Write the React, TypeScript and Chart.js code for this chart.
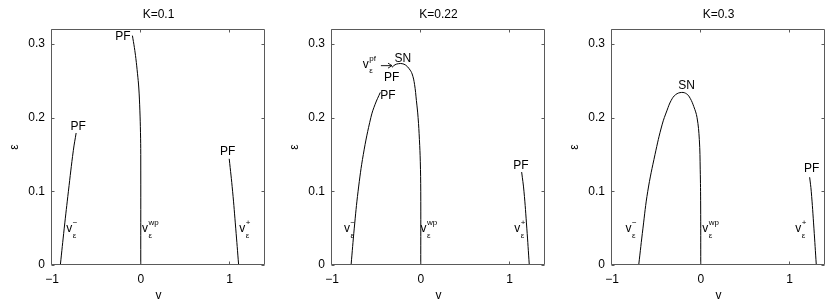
import React, { useEffect, useRef } from "react";
import { Chart, registerables } from "chart.js";

Chart.register(...registerables);

const FONT = "'Liberation Sans', Arial, Helvetica, sans-serif";

// shared axes
const xTicks = [-1, 0, 1];
const yTicks = [0, 0.1, 0.2, 0.3];
const xMin = -1;
const xMax = 1.4;
const yMin = 0;
const yMax = 0.32;
const rootEps = 0.049;
const rootSup = ["−", "wp", "+"];

// ---------- K = 0.1 ----------
const k1Title = "K=0.1";
const k1MinusV = [-0.906, -0.862, -0.815, -0.76, -0.728];
const k1MinusEps = [0, 0.05, 0.1, 0.155, 0.179];
const k1WpV = [0, 0, -0.003, -0.01, -0.022, -0.037, -0.055, -0.072, -0.094];
const k1WpEps = [0, 0.15, 0.18, 0.21, 0.24, 0.26, 0.28, 0.295, 0.311];
const k1PlusV = [1.103, 1.07, 1.035, 0.997];
const k1PlusEps = [0, 0.05, 0.1, 0.144];
const k1MarkText = ["PF", "PF", "PF"];
const k1MarkV = [-0.706, -0.2, 0.978];
const k1MarkEps = [0.188, 0.31, 0.154];
const k1RootV = [-0.805, 0.048, 1.143];

// ---------- K = 0.22 ----------
const k2Title = "K=0.22";
const k2MinusV = [-0.785, -0.749, -0.706, -0.647, -0.562, -0.514, -0.456];
const k2MinusEps = [0, 0.05, 0.1, 0.15, 0.2, 0.218, 0.234];
const k2ArcV = [-0.324, -0.29, -0.25, -0.21, -0.17, -0.13, -0.097, -0.07, -0.049, -0.03, -0.015, -0.005, 0, 0];
const k2ArcEps = [0.268, 0.2715, 0.273, 0.273, 0.271, 0.266, 0.259, 0.245, 0.223, 0.2, 0.17, 0.14, 0.1, 0];
const k2PlusV = [1.223, 1.195, 1.163, 1.137];
const k2PlusEps = [0, 0.05, 0.1, 0.126];
const k2MarkText = ["SN", "PF", "PF", "PF"];
const k2MarkV = [-0.202, -0.328, -0.371, 1.129];
const k2MarkEps = [0.28, 0.254, 0.229, 0.135];
const k2RootV = [-0.83, 0.031, 1.087];
const k2PfLabelV = -0.62;
const k2PfLabelEps = 0.272;
const k2ArrowV = [-0.449, -0.324];
const k2ArrowEps = [0.2703, 0.2703];

// ---------- K = 0.3 ----------
const k3Title = "K=0.3";
const k3LeftV = [-0.699, -0.651, -0.597, -0.515, -0.436, -0.379, -0.334, -0.283, -0.215, -0.159, -0.119, -0.079, -0.042, -0.016, -0.006, -0.001, 0];
const k3LeftEps = [0, 0.05, 0.1, 0.15, 0.19, 0.21, 0.223, 0.231, 0.234, 0.232, 0.226, 0.215, 0.2, 0.17, 0.13, 0.08, 0];
const k3PlusV = [1.302, 1.275, 1.245, 1.227];
const k3PlusEps = [0, 0.05, 0.1, 0.119];
const k3MarkText = ["SN", "PF"];
const k3MarkV = [-0.161, 1.251];
const k3MarkEps = [0.243, 0.13];
const k3RootV = [-0.815, 0.051, 1.098];

const zip = (v: number[], e: number[]) => v.map((x, i) => ({ x, y: e[i] }));

type PanelDef = {
  title: string;
  curves: { v: number[]; e: number[] }[];
  marks: { text: string[]; v: number[]; e: number[] };
  roots: number[];
  pf?: { v: number; e: number; arrowV: number[]; arrowE: number[] };
};

const panels: PanelDef[] = [
  {
    title: k1Title,
    curves: [
      { v: k1MinusV, e: k1MinusEps },
      { v: k1WpV, e: k1WpEps },
      { v: k1PlusV, e: k1PlusEps },
    ],
    marks: { text: k1MarkText, v: k1MarkV, e: k1MarkEps },
    roots: k1RootV,
  },
  {
    title: k2Title,
    curves: [
      { v: k2MinusV, e: k2MinusEps },
      { v: k2ArcV, e: k2ArcEps },
      { v: k2PlusV, e: k2PlusEps },
    ],
    marks: { text: k2MarkText, v: k2MarkV, e: k2MarkEps },
    roots: k2RootV,
    pf: { v: k2PfLabelV, e: k2PfLabelEps, arrowV: k2ArrowV, arrowE: k2ArrowEps },
  },
  {
    title: k3Title,
    curves: [
      { v: k3LeftV, e: k3LeftEps },
      { v: k3PlusV, e: k3PlusEps },
    ],
    marks: { text: k3MarkText, v: k3MarkV, e: k3MarkEps },
    roots: k3RootV,
  },
];

const PANEL_LEFT = [0, 280, 560];
const PANEL_W = [280, 280, 270];
const H = 303;
const AXIS_W = 52;
const AREA_W = 213;
const XAXIS_H = 38;

const annotPlugin = {
  id: "annot",
  afterDraw(chart: any, _args: any, opts: any) {
    const p: PanelDef = opts.panel;
    if (!p) return;
    const { ctx, chartArea: a } = chart;
    const xs = chart.scales.x;
    const ys = chart.scales.y;
    ctx.save();
    // box
    ctx.strokeStyle = "#5a5a5a";
    ctx.lineWidth = 1;
    const l = Math.round(a.left) - 0.5;
    const r = Math.round(a.right) - 0.5;
    const t = Math.round(a.top) + 0.5;
    const b = Math.round(a.bottom) - 0.5;
    ctx.beginPath();
    ctx.rect(l, t, r - l, b - t);
    ctx.stroke();
    // inward ticks
    ctx.beginPath();
    const tl = 3;
    xTicks.forEach((v) => {
      const px = Math.round(xs.getPixelForValue(v)) - 0.5;
      ctx.moveTo(px, b);
      ctx.lineTo(px, b - tl);
      ctx.moveTo(px, t);
      ctx.lineTo(px, t + tl);
    });
    yTicks.forEach((v) => {
      const py = Math.round(ys.getPixelForValue(v)) + 0.5;
      ctx.moveTo(l, py);
      ctx.lineTo(l + tl, py);
      ctx.moveTo(r, py);
      ctx.lineTo(r - tl, py);
    });
    ctx.stroke();

    ctx.fillStyle = "#000";
    ctx.textBaseline = "middle";
    // PF / SN marks
    ctx.font = `12px ${FONT}`;
    ctx.textAlign = "center";
    p.marks.text.forEach((txt, i) => {
      ctx.fillText(txt, xs.getPixelForValue(p.marks.v[i]), ys.getPixelForValue(p.marks.e[i]));
    });

    const drawV = (cx: number, cy: number, sup: string) => {
      ctx.font = `12px ${FONT}`;
      ctx.textAlign = "center";
      ctx.fillText("v", cx, cy);
      ctx.font = `8px ${FONT}`;
      ctx.textAlign = "left";
      ctx.fillText(sup, cx + 3.5, cy - 6);
      ctx.fillText("ε", cx + 3.5, cy + 6.5);
    };
    p.roots.forEach((v, i) => {
      drawV(xs.getPixelForValue(v), ys.getPixelForValue(rootEps), rootSup[i]);
    });

    if (p.pf) {
      drawV(xs.getPixelForValue(p.pf.v), ys.getPixelForValue(p.pf.e), "pf");
      const x0 = xs.getPixelForValue(p.pf.arrowV[0]);
      const x1 = xs.getPixelForValue(p.pf.arrowV[1]);
      const y0 = ys.getPixelForValue(p.pf.arrowE[0]);
      const y1 = ys.getPixelForValue(p.pf.arrowE[1]);
      ctx.strokeStyle = "#000";
      ctx.lineWidth = 0.9;
      ctx.beginPath();
      ctx.moveTo(x0, y0);
      ctx.lineTo(x1, y1);
      ctx.moveTo(x1 - 4, y1 - 2.5);
      ctx.lineTo(x1, y1);
      ctx.lineTo(x1 - 4, y1 + 2.5);
      ctx.stroke();
    }
    ctx.restore();
  },
};

function Panel({ def, idx }: { def: PanelDef; idx: number }) {
  const ref = useRef<HTMLCanvasElement>(null);
  useEffect(() => {
    const canvas = ref.current;
    if (!canvas) return;
    const W = PANEL_W[idx];
    const fontCfg = { family: FONT, size: 12, weight: "normal" as const };
    const chart = new Chart(canvas, {
      type: "scatter",
      data: {
        datasets: def.curves.map((c) => ({
          data: zip(c.v, c.e),
          showLine: true,
          borderColor: "#000",
          borderWidth: 1,
          pointRadius: 0,
          tension: 0.4,
          fill: false,
        })),
      },
      options: {
        responsive: false,
        animation: false,
        events: [],
        layout: { padding: { left: 0, right: W - AXIS_W - AREA_W, top: 0, bottom: 0 } },
        plugins: {
          legend: { display: false },
          tooltip: { enabled: false },
          title: {
            display: true,
            text: def.title,
            fullSize: false,
            color: "#000",
            font: fontCfg,
            padding: { top: 7.8, bottom: 6.8 },
          },
          annot: { panel: def },
        } as any,
        scales: {
          x: {
            type: "linear",
            min: xMin,
            max: xMax,
            afterBuildTicks: (s: any) => {
              s.ticks = xTicks.map((v) => ({ value: v }));
            },
            afterFit: (s: any) => {
              s.height = XAXIS_H;
            },
            grid: { display: false, drawTicks: false },
            border: { display: false },
            ticks: {
              padding: 7,
              color: "#000",
              font: fontCfg,
              maxRotation: 0,
              callback: (v: any) => (v < 0 ? "−" + Math.abs(v) : String(v)),
            },
            title: { display: true, text: "v", color: "#000", font: fontCfg, padding: { top: 0, bottom: 0 } },
          },
          y: {
            type: "linear",
            min: yMin,
            max: yMax,
            afterBuildTicks: (s: any) => {
              s.ticks = yTicks.map((v) => ({ value: v }));
            },
            afterFit: (s: any) => {
              s.width = AXIS_W;
            },
            grid: { display: false, drawTicks: false },
            border: { display: false },
            ticks: {
              padding: 7,
              color: "#000",
              font: fontCfg,
              callback: (v: any) => String(v),
            },
            title: { display: true, text: "ε", color: "#000", font: fontCfg, padding: { top: 7, bottom: 0 } },
          },
        },
      },
      plugins: [annotPlugin],
    } as any);
    return () => chart.destroy();
  }, [def, idx]);
  return (
    <canvas
      ref={ref}
      width={PANEL_W[idx]}
      height={H}
      style={{ position: "absolute", left: PANEL_LEFT[idx], top: 0, width: PANEL_W[idx], height: H }}
    />
  );
}

export default function App() {
  useEffect(() => {
    document.body.style.margin = "0";
  }, []);
  return (
    <div style={{ position: "fixed", left: 0, top: 0, width: 830, height: H, background: "#fff" }}>
      {panels.map((p, i) => (
        <Panel key={i} def={p} idx={i} />
      ))}
    </div>
  );
}
